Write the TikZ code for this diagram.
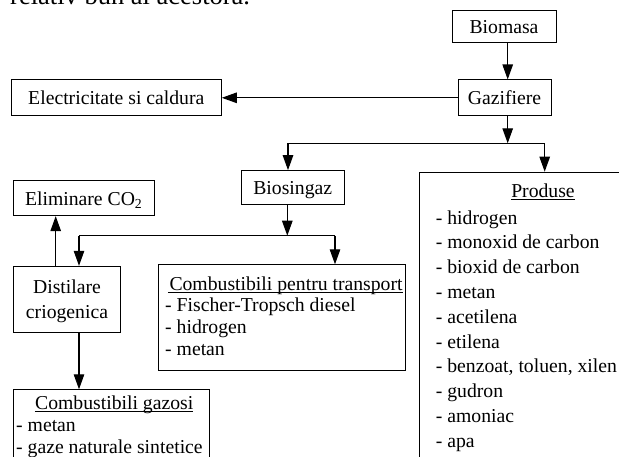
\documentclass[tikz,border=0pt]{standalone}
\usepackage{fontspec}
\setmainfont{Liberation Serif}
\usetikzlibrary{arrows.meta}
\newcommand{\fs}{\fontsize{19.7}{24}\selectfont}
\begin{document}
\begin{tikzpicture}[x=1pt,y=-1pt,
  box/.style={draw, line width=1pt, inner sep=0pt, text height=14pt, text depth=0pt, font=\fs},
  plainbox/.style={draw, line width=1pt, inner sep=0pt, anchor=north west},
  conn/.style={line width=1.1pt},
  arr/.style={line width=1.1pt, -{Triangle[length=15pt,width=10.5pt]}},
  lbl/.style={anchor=base west, inner sep=0pt, font=\fs},
  lblc/.style={anchor=base, inner sep=0pt, font=\fs},
  uline/.style={line width=0.9pt}]
\useasboundingbox (0,0) rectangle (619,456);
\clip (0,0) rectangle (619,456);
\fill[white] (0,0) rectangle (619,456);

% fragment of page text at the top (cut off by the picture's edge)
\node[anchor=base west, inner sep=0pt, font=\fontsize{26.5}{30}\selectfont] (toptext) at (10,4) {relativ bun al acestora.};

% simple boxes
\node[box, minimum width=104pt, minimum height=32pt] (biomasa) at (504,26.7) {Biomasa};
\node[box, minimum width=93pt, minimum height=35.7pt] (gaz) at (504.5,97.8) {Gazifiere};
\node[box, minimum width=210pt, minimum height=35.7pt] (elec) at (116.3,97.8) {Electricitate si caldura};
\node[box, minimum width=140.7pt, minimum height=34.7pt] (elim) at (83.7,198.3) {Eliminare CO\textsubscript{2}};
\node[box, minimum width=102.7pt, minimum height=34.3pt] (bios) at (292.7,187.8) {Biosingaz};

% Distilare criogenica
\node[box, minimum width=107.4pt, minimum height=66pt] (dist) at (67,299.3) {};
\node[lblc] (dist1) at (67,293.3) {Distilare};
\node[lblc] (dist2) at (67,318.3) {criogenica};

% Combustibili pentru transport
\node[plainbox, minimum width=246.7pt, minimum height=105.7pt] (trans) at (158.3,264.3) {};
\node[lbl] (trt) at (169.3,290.7) {Combustibili pentru transport};
\draw[uline] ([yshift=-2pt,xshift=-1.5pt]trt.base west) -- ([yshift=-2pt]trt.base east);
\node[lbl] (tr1) at (165,311) {- Fischer-Tropsch diesel};
\node[lbl] (tr2) at (165,333.3) {- hidrogen};
\node[lbl] (tr3) at (165,355.5) {- metan};

% Combustibili gazosi
\node[plainbox, minimum width=196pt, minimum height=100pt] (gazosi) at (13.3,389.3) {};
\node[lblc] (gzt) at (114.2,409.3) {Combustibili gazosi};
\draw[uline] ([yshift=-2pt]gzt.base west) -- ([yshift=-2pt]gzt.base east);
\node[lbl] (gz1) at (16,431.5) {- metan};
\node[lbl] (gz2) at (16,453.2) {- gaze naturale sintetice};

% Produse
\node[plainbox, minimum width=240pt, minimum height=320pt] (prod) at (419,171.7) {};
\node[lblc] (prt) at (543,197.3) {Produse};
\draw[uline] ([yshift=-2pt]prt.base west) -- ([yshift=-2pt]prt.base east);
\foreach \t [count=\k from 0] in {hidrogen, monoxid de carbon, bioxid de carbon, metan, acetilena, etilena, {benzoat, toluen, xilen}, gudron, amoniac, apa}
  \node[lbl] (pr\k) at (435.7,{224+24.8*\k}) {- \t};

% connector coordinates
\coordinate (c1) at (507.7,0);
\coordinate (split) at (507.7,143.3);
\coordinate (sl) at (288,143.3);
\coordinate (sr) at (544.7,143.3);
\coordinate (s2) at (287.3,235.7);
\coordinate (s2l) at (79,235.7);
\coordinate (s2r) at (335,235.7);
\coordinate (c3) at (55.7,0);

% connectors
\draw[arr] (biomasa.south -| c1) -- (gaz.north -| c1);
\draw[arr] (gaz.west) -- (elec.east);
\draw[arr] (gaz.south -| c1) -- (split);
\draw[conn] (sl) -- (sr);
\draw[arr] (sl) -- (bios.north -| sl);
\draw[arr] (sr) -- (prod.north -| sr);
\draw[arr] (bios.south -| s2) -- (s2);
\draw[conn] (s2l) -- (s2r);
\draw[arr] (s2l) -- (dist.north -| s2l);
\draw[arr] (s2r) -- (trans.north -| s2r);
\draw[arr] (dist.north -| c3) -- (elim.south -| c3);
\draw[arr] (dist.south -| s2l) -- (gazosi.north -| s2l);
\end{tikzpicture}
\end{document}
